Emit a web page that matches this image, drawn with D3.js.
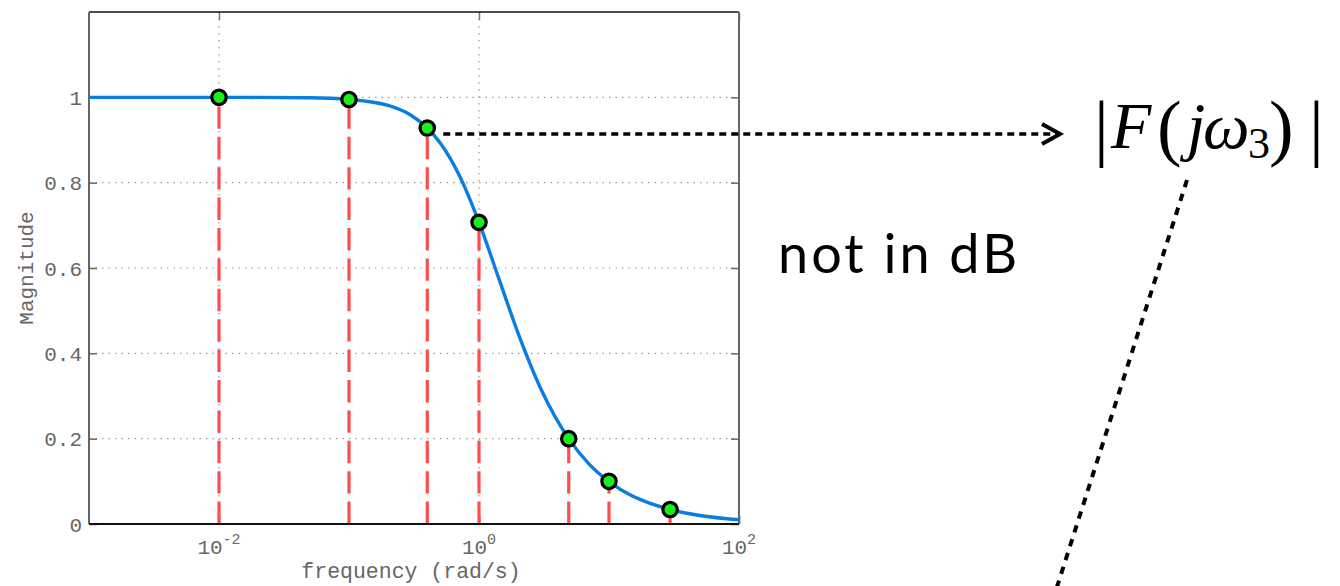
<!DOCTYPE html>
<html>
<head>
<meta charset="utf-8">
<script src="https://cdn.jsdelivr.net/npm/d3@7/dist/d3.min.js"></script>
<style>
  html, body { margin: 0; padding: 0; background: #fff; }
  svg { display: block; }
</style>
</head>
<body>
<svg id="chart" width="1340" height="586"></svg>
<script>
// Magnitude response of a first-order low-pass filter (linear, not dB)

// Sampled response curve
const curveFreq = [0.001, 0.01, 0.05, 0.1, 0.2, 0.3, 0.4, 0.5, 0.7, 1, 1.4, 2, 3, 4.9, 7, 10, 15, 20, 29.5, 50, 100];
const curveMag  = [1, 1, 0.999, 0.995, 0.981, 0.958, 0.928, 0.894, 0.819, 0.707, 0.581, 0.447, 0.316, 0.2, 0.141, 0.0995, 0.066, 0.05, 0.034, 0.02, 0.01];

// Selected frequencies shown as stems
const stemFreq = [0.01, 0.1, 0.4, 1, 4.9, 10, 29.5];
const stemMag  = [1.0, 0.995, 0.928, 0.707, 0.2, 0.1, 0.034];

// Axis ticks
const xTickExp  = [-2, 0, 2];
const xGridExp  = [-2, 0];
const yTicks    = [0, 0.2, 0.4, 0.6, 0.8, 1];
const yGrid     = [0.2, 0.4, 0.6, 0.8, 1];

const xLabel = "frequency (rad/s)";
const yLabel = "Magnitude";
const noteText = "not in dB";
const highlighted = 2; // index of the stem pointed at by the arrow

const svg = d3.select("#chart");
const plot = { left: 89, right: 739, top: 12, bottom: 524 };

const x = d3.scaleLog().domain([1e-3, 1e2]).range([plot.left, plot.right]);
const y = d3.scaleLinear().domain([0, 1.2]).range([plot.bottom, plot.top]);

const monoFont = "'Liberation Mono', 'Courier New', monospace";
const tickColor = "#666";

// Grid
const grid = svg.append("g");
grid.selectAll("line.gx").data(xGridExp).join("line")
  .attr("x1", d => x(Math.pow(10, d))).attr("x2", d => x(Math.pow(10, d)))
  .attr("y1", plot.top).attr("y2", plot.bottom)
  .attr("stroke", "#9a9a9a").attr("stroke-width", 1.2)
  .attr("stroke-dasharray", "1.5,5.5");
grid.selectAll("line.gy").data(yGrid).join("line")
  .attr("x1", plot.left).attr("x2", plot.right)
  .attr("y1", d => y(d)).attr("y2", d => y(d))
  .attr("stroke", "#9a9a9a").attr("stroke-width", 1.2)
  .attr("stroke-dasharray", "1.5,5");

// Axes (ticks pointing inward on all four sides)
const axisLeft = d3.axisRight(y).tickValues(yTicks).tickSize(8).tickFormat("");
const axisRight = d3.axisLeft(y).tickValues(yTicks).tickSize(8).tickFormat("");
const xTickVals = xTickExp.map(e => Math.pow(10, e));
const axisBottom = d3.axisTop(x).tickValues(xTickVals).tickSize(8).tickFormat("");
const axisTop = d3.axisBottom(x).tickValues(xTickVals).tickSize(8).tickFormat("");

function styleAxis(g, color) {
  g.select(".domain").remove();
  g.selectAll(".tick line").attr("stroke", color).attr("stroke-width", 1.5);
}
svg.append("g").attr("transform", `translate(${plot.left},0)`).call(axisLeft).call(g => styleAxis(g, "#666"));
svg.append("g").attr("transform", `translate(${plot.right},0)`).call(axisRight).call(g => styleAxis(g, "#666"));
svg.append("g").attr("transform", `translate(0,${plot.bottom})`).call(axisBottom).call(g => styleAxis(g, "#111"));
svg.append("g").attr("transform", `translate(0,${plot.top})`).call(axisTop).call(g => styleAxis(g, "#777"));

// Frame
svg.append("line").attr("x1", plot.left).attr("x2", plot.right).attr("y1", plot.top).attr("y2", plot.top)
  .attr("stroke", "#111").attr("stroke-width", 1.6);
svg.append("line").attr("x1", plot.left).attr("x2", plot.left).attr("y1", plot.top).attr("y2", plot.bottom)
  .attr("stroke", "#666").attr("stroke-width", 2);
svg.append("line").attr("x1", plot.right).attr("x2", plot.right).attr("y1", plot.top).attr("y2", plot.bottom)
  .attr("stroke", "#666").attr("stroke-width", 2);

// Stems, dashed, drawn from the baseline upward
const stems = d3.range(stemFreq.length).map(i => ({ f: stemFreq[i], m: stemMag[i] }));
svg.append("g").selectAll("line").data(stems).join("line")
  .attr("x1", d => x(d.f)).attr("x2", d => x(d.f))
  .attr("y1", y(0)).attr("y2", d => y(d.m))
  .attr("stroke", "#ff4d4d").attr("stroke-width", 3.2)
  .attr("stroke-dasharray", "22.4,8");

// Bottom axis line over the stems
svg.append("line").attr("x1", plot.left).attr("x2", plot.right).attr("y1", plot.bottom).attr("y2", plot.bottom)
  .attr("stroke", "#111").attr("stroke-width", 2);

// Response curve
const curvePts = d3.range(curveFreq.length).map(i => [curveFreq[i], curveMag[i]]);
const line = d3.line().x(d => x(d[0])).y(d => y(d[1])).curve(d3.curveMonotoneX);
svg.append("path").datum(curvePts)
  .attr("d", line)
  .attr("fill", "none").attr("stroke", "#0a7ee0").attr("stroke-width", 3.4);

// Stem markers
svg.append("g").selectAll("circle").data(stems).join("circle")
  .attr("cx", d => x(d.f)).attr("cy", d => y(d.m)).attr("r", 7.2)
  .attr("fill", "#1bef1b").attr("stroke", "#000").attr("stroke-width", 3.2);

// Tick labels
const yl = svg.append("g").attr("font-family", monoFont).attr("font-size", 21).attr("fill", tickColor);
yl.selectAll("text").data(yTicks).join("text")
  .attr("x", 82).attr("y", d => y(d)).attr("dy", "0.36em")
  .attr("text-anchor", "end")
  .text(d => d === 0 ? "0" : d === 1 ? "1" : d.toFixed(1));

const xl = svg.append("g").attr("font-family", monoFont).attr("fill", tickColor);
xl.selectAll("text").data(xTickExp).join("text")
  .attr("x", d => x(Math.pow(10, d))).attr("y", 554)
  .attr("text-anchor", "middle").attr("font-size", 21)
  .each(function(d) {
    const t = d3.select(this);
    t.append("tspan").text("10");
    t.append("tspan").attr("font-size", 15).attr("dy", -10).text(String(d));
  });

// Axis titles
svg.append("text")
  .attr("x", (plot.left + plot.right) / 2 - 3).attr("y", 578)
  .attr("text-anchor", "middle")
  .attr("font-family", monoFont).attr("font-size", 21.5).attr("fill", tickColor)
  .text(xLabel);
svg.append("text")
  .attr("transform", `translate(33,${(plot.top + plot.bottom) / 2}) rotate(-90)`)
  .attr("text-anchor", "middle")
  .attr("font-family", monoFont).attr("font-size", 21).attr("fill", tickColor)
  .text(yLabel);

// Annotation: dotted arrow from the highlighted stem to the formula
const hx = x(stemFreq[highlighted]);
const hy = y(stemMag[highlighted]) + 6;
const arrowEnd = 1060;
svg.append("line")
  .attr("x1", hx + 16).attr("x2", arrowEnd - 4)
  .attr("y1", hy).attr("y2", hy)
  .attr("stroke", "#000").attr("stroke-width", 3.5)
  .attr("stroke-dasharray", "7,5");
svg.append("path")
  .attr("d", `M${arrowEnd - 18},${hy - 10} L${arrowEnd},${hy} L${arrowEnd - 18},${hy + 10}`)
  .attr("fill", "none").attr("stroke", "#000").attr("stroke-width", 4)
  .attr("stroke-linejoin", "miter");

// Formula |F(jω₃)|
const serif = "'Liberation Serif', 'DejaVu Serif', serif";
const formula = svg.append("text")
  .attr("font-family", serif).attr("font-size", 66).attr("fill", "#000");
const glyphs = [
  { t: "|", x: 1094, y: 152, size: 74, italic: false },
  { t: "F", x: 1111, y: 148, size: 66, italic: true },
  { t: "(", x: 1157, y: 152, size: 74, italic: false },
  { t: "j", x: 1187, y: 148, size: 66, italic: true },
  { t: "ω", x: 1203, y: 148, size: 66, italic: true },
  { t: "3", x: 1248, y: 158, size: 44, italic: false },
  { t: ")", x: 1269, y: 152, size: 74, italic: false },
  { t: "|", x: 1309, y: 152, size: 74, italic: false }
];
glyphs.forEach(g => {
  formula.append("tspan").attr("x", g.x).attr("y", g.y)
    .attr("font-size", g.size)
    .attr("font-style", g.italic ? "italic" : "normal").text(g.t);
});

// Dotted leader line from the formula down to the bottom edge
svg.append("line")
  .attr("x1", 1187).attr("y1", 180).attr("x2", 1056).attr("y2", 590)
  .attr("stroke", "#000").attr("stroke-width", 4)
  .attr("stroke-dasharray", "7.5,7");

// Note
svg.append("text")
  .attr("x", 778).attr("y", 273)
  .attr("font-family", "Lato, 'Open Sans', sans-serif").attr("font-size", 54)
  .attr("letter-spacing", 3).attr("fill", "#000")
  .text(noteText);
</script>
</body>
</html>
